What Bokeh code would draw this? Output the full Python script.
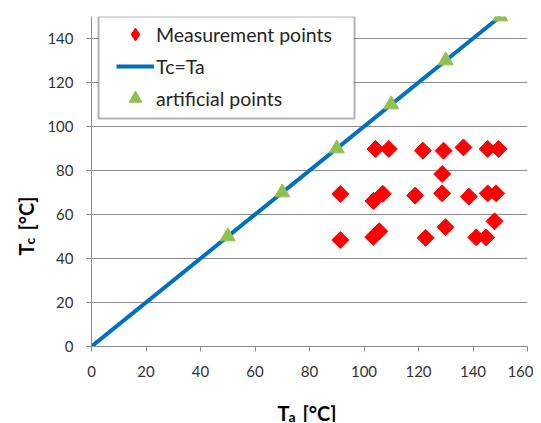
import math
from bokeh.plotting import figure
from bokeh.layouts import row, column
from bokeh.models import (Range1d, FixedTicker, Legend, LegendItem, BoxAnnotation)
from bokeh.core.properties import value
from bokeh.embed import file_html
from bokeh.resources import INLINE

# ---- data ----
meas_x = [104.2, 109.1, 121.6, 129.2, 136.5, 145.4, 149.4,
          128.7,
          91.3, 103.5, 106.9, 118.8, 128.7, 138.5, 145.4, 148.5,
          91.3, 103.4, 105.6, 122.6, 129.9, 141.2, 144.8, 147.9]
meas_y = [89.8, 89.8, 89.0, 89.0, 90.5, 89.8, 89.8,
          78.4,
          69.3, 66.1, 69.4, 68.6, 69.6, 68.1, 69.6, 69.6,
          48.4, 49.8, 52.4, 49.4, 54.2, 49.6, 49.6, 56.9]
line_x = [0, 150]
line_y = [0, 150]
art_x = [50, 70, 90, 110, 130, 150]
art_y = [50, 70, 90, 110, 130, 150]
x_ticks = [0, 20, 40, 60, 80, 100, 120, 140, 160]
y_ticks = [0, 20, 40, 60, 80, 100, 120, 140]
legend_labels = ["Measurement points", "Tc=Ta", "artificial points"]

FONT = "Lato"
GRAY = "#8C8C8C"
TXT = "#333333"
RED = "#FF0000"
BLUE = "#0070C0"
GREEN = "#92C050"

YT_W = 40
P_H = 386
XT_H = 36
FRAME_H = 330

p = figure(output_backend="svg", toolbar_location=None,
           frame_width=436, frame_height=FRAME_H,
           min_border_left=51, min_border_top=16, min_border_right=6, min_border_bottom=40,
           x_range=Range1d(0, 160), y_range=Range1d(0, 150),
           background_fill_color="white", border_fill_color="white")
p.outline_line_color = None

p.xgrid.visible = False
p.ygrid.ticker = FixedTicker(ticks=y_ticks)
p.ygrid.grid_line_color = GRAY
p.ygrid.grid_line_width = 1

for ax, ticks in ((p.xaxis, x_ticks), (p.yaxis, y_ticks)):
    ax.ticker = FixedTicker(ticks=ticks)
    ax.axis_line_color = GRAY
    ax.major_tick_line_color = GRAY
    ax.major_tick_in = 0
    ax.major_tick_out = 5
    ax.minor_tick_line_color = None
    ax.major_label_text_font = FONT
    ax.major_label_text_font_size = "15px"
    ax.major_label_text_color = TXT
p.xaxis.major_label_standoff = 14
p.yaxis.major_label_standoff = 13

line_r = p.line(line_x, line_y, line_color=BLUE, line_width=4)
meas_r = p.scatter(meas_x, meas_y, marker="square", size=12, angle=math.pi / 4,
                   fill_color=RED, line_color=RED)
art_r = p.scatter(art_x, art_y, marker="triangle", size=15,
                  fill_color=GREEN, line_color=GREEN)
# legend swatch for the diamonds (legend glyphs ignore the marker angle)
meas_swatch = p.scatter([-100], [-100], marker="diamond", fill_color=RED, line_color=RED)

box = BoxAnnotation(left=7, right=263, top=330, bottom=228,
                    left_units="screen", right_units="screen",
                    top_units="screen", bottom_units="screen",
                    fill_color="white", fill_alpha=1.0,
                    line_color="black", line_width=2)
p.add_layout(box)

legend = Legend(items=[
    LegendItem(label=legend_labels[0], renderers=[meas_swatch]),
    LegendItem(label=legend_labels[1], renderers=[line_r]),
    LegendItem(label=legend_labels[2], renderers=[art_r]),
], location=(23, 230))
legend.padding = 2
legend.spacing = 0
legend.glyph_width = 38
legend.glyph_height = 32
legend.label_standoff = 2
legend.label_text_font = FONT
legend.label_text_font_size = "19.5px"
legend.label_text_color = "#262626"
legend.background_fill_alpha = 0
legend.border_line_alpha = 0
p.add_layout(legend)


def text_fig(w, h, yr):
    f = figure(output_backend="svg", toolbar_location=None, width=w, height=h,
               x_range=Range1d(0, w), y_range=Range1d(0, yr), min_border=0,
               x_axis_type=None, y_axis_type=None,
               background_fill_color="white", border_fill_color="white")
    f.outline_line_color = None
    return f


def put(f, x, y, t, size, angle=0.0):
    f.text(x=[x], y=[y], text=[t], angle=angle, text_font=value(FONT),
           text_font_style="bold", text_font_size=size, text_color="black",
           text_baseline="alphabetic", text_align="left")


# y title strip: its frame is aligned with the main frame (330 px tall)
yt = text_fig(YT_W, P_H, FRAME_H)
put(yt, 25, 91, "T", "20px", math.pi / 2)
put(yt, 29, 102, "c", "14px", math.pi / 2)
put(yt, 25, 116, "[°C]", "20px", math.pi / 2)

TOTAL_W = YT_W + 51 + 436 + 6
xt = text_fig(TOTAL_W, XT_H, XT_H)
put(xt, 277, 10, "T", "20px")
put(xt, 288, 6, "a", "14px")
put(xt, 302, 10, "[°C]", "20px")

layout = column(row(yt, p), xt)
open("out.html", "w").write(file_html(layout, INLINE))
